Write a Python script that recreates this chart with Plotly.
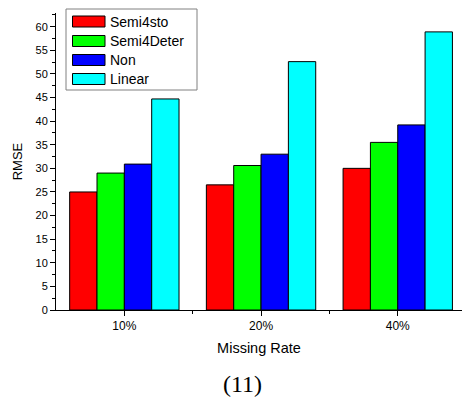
import plotly.graph_objects as go

categories = ["10%", "20%", "40%"]
series_names = ["Semi4sto", "Semi4Deter", "Non", "Linear"]
semi4sto = [25.0, 26.5, 30.0]
semi4deter = [29.0, 30.6, 35.5]
non = [30.9, 33.0, 39.2]
linear = [44.7, 52.6, 58.9]
series_values = [semi4sto, semi4deter, non, linear]
colors = ["#ff0000", "#00ff00", "#0000ff", "#00ffff"]
y_ticks = list(range(0, 61, 5))

W, H = 462, 397
L, R, T, B = 56, 0, 13, 87
pw, ph = W - L - R, H - T - B

def px(x):
    return (x - L) / pw

def py(y):
    return (H - B - y) / ph

fig = go.Figure()
xpos = list(range(len(categories)))
for name, vals, col in zip(series_names, series_values, colors):
    fig.add_trace(go.Bar(
        x=xpos, y=vals, name=name,
        marker=dict(color=col, line=dict(color="#000000", width=1)),
        showlegend=False,
    ))

shapes = []
annotations = []
# legend box
shapes.append(dict(type="rect", xref="paper", yref="paper",
                   x0=px(66), x1=px(197), y0=py(90), y1=py(9),
                   line=dict(color="#808080", width=1), fillcolor="white", layer="above"))
row_y = [21.5, 41, 60, 79]
for name, col, yy in zip(series_names, colors, row_y):
    shapes.append(dict(type="rect", xref="paper", yref="paper",
                       x0=px(72.5), x1=px(105), y0=py(yy + 5.5), y1=py(yy - 5.5),
                       line=dict(color="#000000", width=1), fillcolor=col, layer="above"))
    annotations.append(dict(xref="paper", yref="paper", x=px(108), y=py(yy),
                            text=name, showarrow=False, xanchor="left", yanchor="middle",
                            font=dict(family="Liberation Sans, Arial", size=14, color="#000")))

annotations.append(dict(xref="paper", yref="paper", x=px(242), y=py(384),
                        text="(11)", showarrow=False, xanchor="center", yanchor="middle",
                        font=dict(family="Liberation Serif, Times New Roman", size=24, color="#000")))

fig.update_layout(
    width=W, height=H,
    margin=dict(l=L, r=R, t=T, b=B, pad=0),
    paper_bgcolor="white", plot_bgcolor="white",
    barmode="group", bargap=0.2, bargroupgap=0,
    shapes=shapes, annotations=annotations,
    font=dict(family="Liberation Sans, Arial", color="#000"),
)
fig.update_xaxes(
    range=[-0.5, 2.47], tickvals=xpos, ticktext=categories,
    showline=True, linecolor="#000", linewidth=1,
    ticks="outside", ticklen=5, tickcolor="#000", tickfont=dict(size=12),
    minor=dict(tickvals=[0.5, 1.5], ticks="outside", ticklen=3, tickcolor="#000"),
    showgrid=False, zeroline=False,
    title=dict(text="Missing Rate", font=dict(size=14.5), standoff=10),
)
fig.update_yaxes(
    range=[0, 62.9], tickvals=y_ticks,
    showline=True, linecolor="#000", linewidth=1,
    ticks="outside", ticklen=5, tickcolor="#000", tickfont=dict(size=11),
    minor=dict(dtick=2.5, ticks="outside", ticklen=3, tickcolor="#000"),
    showgrid=False, zeroline=False,
    title=dict(text="RMSE", font=dict(size=13), standoff=9),
)
fig.write_html("out.html", config={"displayModeBar": False},
               post_script="document.body.style.margin='0';document.body.style.overflow='hidden';")
